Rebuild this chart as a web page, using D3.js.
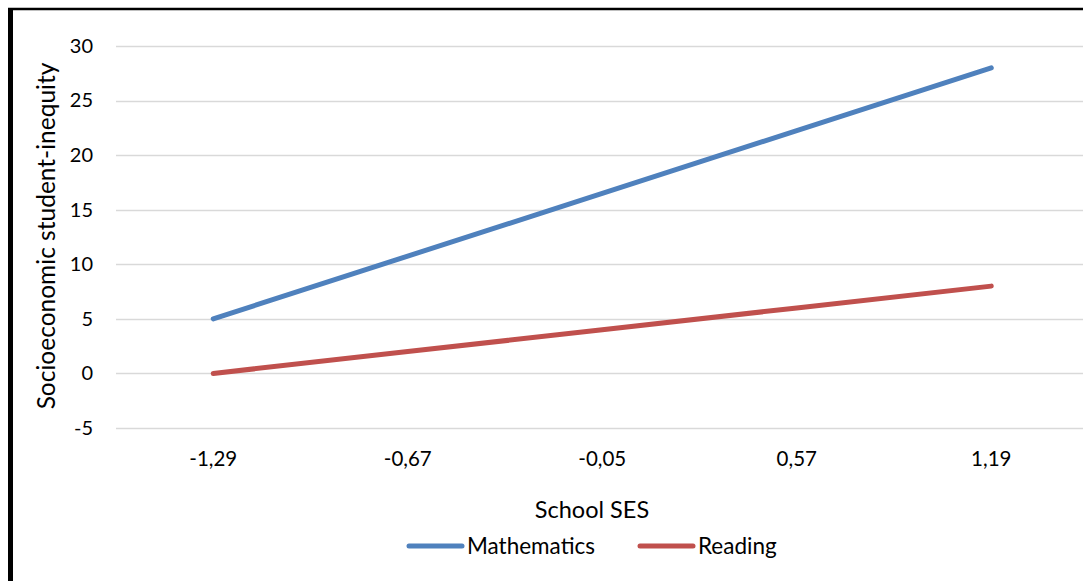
<!DOCTYPE html>
<html><head><meta charset="utf-8">
<script src="https://cdn.jsdelivr.net/npm/d3@7"></script>
<style>body{margin:0;background:#fff}svg{display:block;font-family:Lato,"Open Sans",sans-serif}</style>
</head><body><svg id="c" width="1083" height="581"></svg>
<script>
const categories = ["-1,29","-0,67","-0,05","0,57","1,19"];
const mathematics = [5, 10.75, 16.5, 22.25, 28];
const reading = [0, 2, 4, 6, 8];
const yTicks = [-5, 0, 5, 10, 15, 20, 25, 30];
const seriesNames = ["Mathematics","Reading"];
const colors = ["#4F81BD","#C0504D"];

const svg = d3.select("#c");
// frame
svg.append("line").attr("x1",8).attr("x2",1083).attr("y1",9).attr("y2",9).attr("stroke","#000").attr("stroke-width",2.5);
svg.append("line").attr("x1",10.5).attr("x2",10.5).attr("y1",8).attr("y2",581).attr("stroke","#000").attr("stroke-width",5);

const x = d3.scaleBand().domain(categories).range([116, 1088.5]);
const y = d3.scaleLinear().domain([-5, 30]).range([428, 46]);

// grid
svg.append("g").selectAll("line").data(yTicks).join("line")
  .attr("x1",116).attr("x2",1083).attr("y1",d=>Math.round(y(d))+0.5).attr("y2",d=>Math.round(y(d))+0.5)
  .attr("stroke","#D9D9D9").attr("stroke-width",1.5);

// y axis labels
const yAxis = d3.axisLeft(y).tickValues(yTicks).tickSize(0).tickPadding(0).tickFormat(d=>d);
const gy = svg.append("g").attr("transform","translate(93,0)").call(yAxis);
gy.select(".domain").remove();
gy.selectAll("text").attr("font-size",20).attr("fill","#000").attr("font-family","Lato");

// x axis labels
const xAxis = d3.axisBottom(x).tickSize(0).tickPadding(0);
const gx = svg.append("g").attr("transform","translate(0,451)").call(xAxis);
gx.select(".domain").remove();
gx.selectAll("text").attr("font-size",20.5).attr("fill","#000").attr("font-family","Lato").attr("dy","0.71em");

// lines
const line = d3.line().x((d,i)=>x(categories[i])+x.bandwidth()/2).y(d=>y(d));
[mathematics, reading].forEach((s,i)=>{
  svg.append("path").datum(s).attr("d",line).attr("fill","none")
    .attr("stroke",colors[i]).attr("stroke-width",5).attr("stroke-linecap","round");
});

// titles
svg.append("text").attr("x",592).attr("y",518).attr("text-anchor","middle").attr("font-size",23.5).text("School SES");
svg.append("text").attr("transform","translate(55,236) rotate(-90)").attr("text-anchor","middle").attr("font-size",24.5).text("Socioeconomic student-inequity");

// legend
const leg = [{x:409, name:seriesNames[0], c:colors[0]},{x:640, name:seriesNames[1], c:colors[1]}];
leg.forEach(l=>{
  svg.append("line").attr("x1",l.x).attr("x2",l.x+53).attr("y1",546).attr("y2",546)
    .attr("stroke",l.c).attr("stroke-width",5).attr("stroke-linecap","round");
  svg.append("text").attr("x",l.x+58).attr("y",554).attr("font-size",22.5).text(l.name);
});
</script></body></html>
